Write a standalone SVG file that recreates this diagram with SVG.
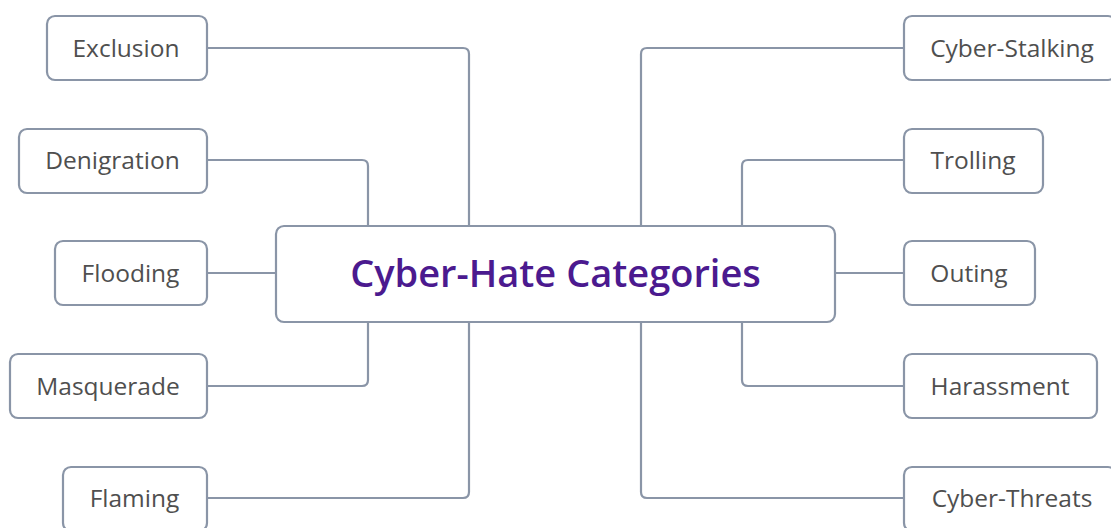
<svg xmlns="http://www.w3.org/2000/svg" width="1111" height="528" viewBox="0 0 1111 528">
<style>
.box{fill:#fff;stroke:#8a95a7;stroke-width:2.2}
.lbl{font-family:"Open Sans",sans-serif;font-size:24.5px;fill:#4f4f4f;text-anchor:middle}
.title{font-family:"Open Sans",sans-serif;font-size:38px;font-weight:600;fill:#4b1a8f;text-anchor:middle}
.con{fill:none;stroke:#8a95a7;stroke-width:2.2}
</style>
<rect width="1111" height="528" fill="#fff"/>
<g id="connectors">
<path class="con" d="M207,48 H463 Q469,48 469,54 V226"/>
<path class="con" d="M207,160 H362 Q368,160 368,166 V226"/>
<path class="con" d="M207,273 H276"/>
<path class="con" d="M368,322 V380 Q368,386 362,386 H207"/>
<path class="con" d="M469,322 V492 Q469,498 463,498 H207"/>
<path class="con" d="M641,226 V54 Q641,48 647,48 H904"/>
<path class="con" d="M742,226 V166 Q742,160 748,160 H904"/>
<path class="con" d="M835,273 H904"/>
<path class="con" d="M742,322 V380 Q742,386 748,386 H904"/>
<path class="con" d="M641,322 V492 Q641,498 647,498 H904"/>
</g>
<g id="center"><rect class="box" x="276" y="226" width="559" height="96" rx="8"/><text class="title" x="555.5" y="287">Cyber-Hate Categories</text></g>
<g id="exclusion"><rect class="box" x="47" y="16" width="160" height="64" rx="8"/><text class="lbl" x="126" y="56.5">Exclusion</text></g>
<g id="denigration"><rect class="box" x="19" y="129" width="188" height="64" rx="8"/><text class="lbl" x="112.5" y="169">Denigration</text></g>
<g id="flooding"><rect class="box" x="55" y="241" width="152" height="64" rx="8"/><text class="lbl" x="130.5" y="281.5">Flooding</text></g>
<g id="masquerade"><rect class="box" x="10" y="354" width="197" height="64" rx="8"/><text class="lbl" x="108" y="394.5">Masquerade</text></g>
<g id="flaming"><rect class="box" x="63" y="467" width="144" height="64" rx="8"/><text class="lbl" x="134.5" y="507">Flaming</text></g>
<g id="cyberstalking"><rect class="box" x="904" y="16" width="212" height="64" rx="8"/><text class="lbl" x="1012" y="56.5">Cyber-Stalking</text></g>
<g id="trolling"><rect class="box" x="904" y="129" width="139" height="64" rx="8"/><text class="lbl" x="973" y="169">Trolling</text></g>
<g id="outing"><rect class="box" x="904" y="241" width="131" height="64" rx="8"/><text class="lbl" x="969" y="281.5">Outing</text></g>
<g id="harassment"><rect class="box" x="904" y="354" width="193" height="64" rx="8"/><text class="lbl" x="1000" y="394.5">Harassment</text></g>
<g id="cyberthreats"><rect class="box" x="904" y="467" width="212" height="64" rx="8"/><text class="lbl" x="1012" y="507">Cyber-Threats</text></g>
</svg>
